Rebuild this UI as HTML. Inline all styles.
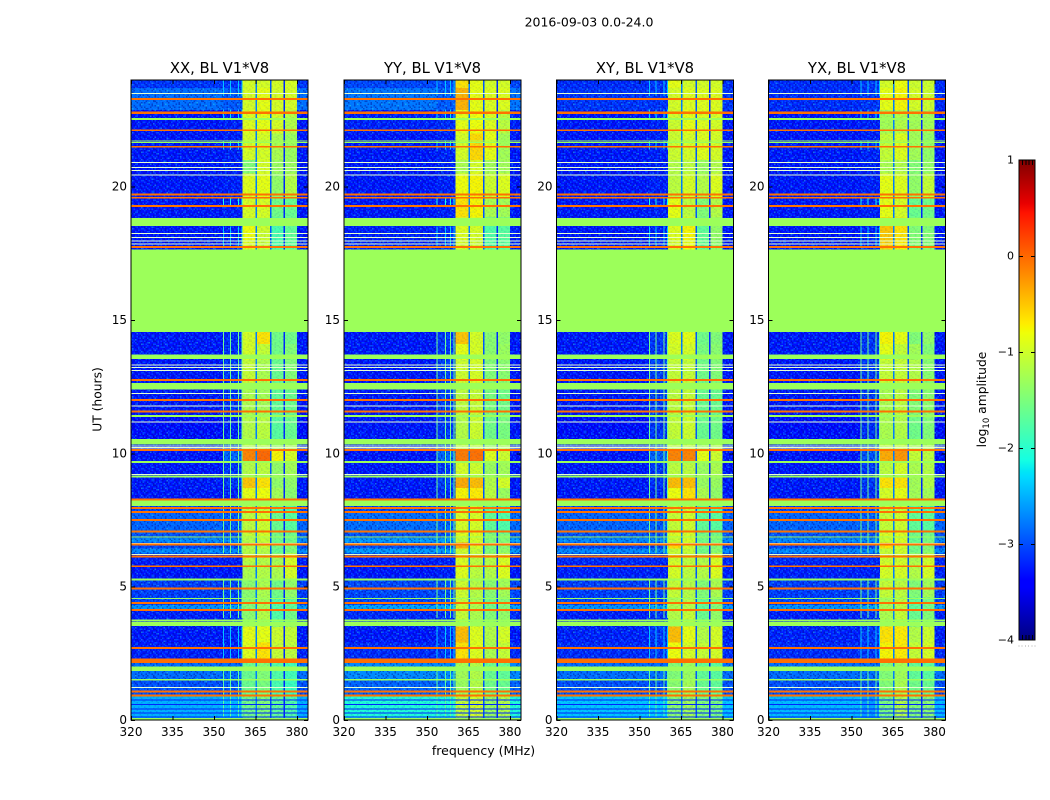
<!DOCTYPE html>
<html lang="en">
<head>
<meta charset="utf-8">
<title>2016-09-03 0.0-24.0</title>
<style>
html,body{margin:0;padding:0;background:#fff;}
svg{display:block;}
text{font-family:"DejaVu Sans","Liberation Sans",sans-serif;fill:#000;}
</style>
</head>
<body>
<svg id="fig" width="1050" height="800" viewBox="0 0 1050 800" xmlns="http://www.w3.org/2000/svg">
<defs id="defs"></defs>
<text x="589" y="26.5" font-size="12.5" text-anchor="middle">2016-09-03 0.0-24.0</text>
<text x="483.5" y="755" font-size="12.5" text-anchor="middle">frequency (MHz)</text>
<text transform="translate(101.5 399.5) rotate(-90)" font-size="12.3" text-anchor="middle">UT (hours)</text>
<g id="panels"></g>
<g id="colorbar"></g>
<text transform="translate(986 399.5) rotate(-90)" font-size="12.3" text-anchor="middle">log<tspan font-size="8.5" dy="3">10</tspan><tspan dy="-3"> amplitude</tspan></text>
</svg>
<script>
// ---- axis categories and ticks ----
const polarisations = ['XX', 'YY', 'XY', 'YX'];
const xTicks = [320, 335, 350, 365, 380];
const yTicks = [0, 5, 10, 15, 20];
const colorTicks = [-4, -3, -2, -1, 0, 1];
const colorMinorTicks = [0.2, 0.4, 0.6, 0.8];

// ---- frequency bands (MHz) and time blocks (UT hours) of the heatmap ----
const freqEdges = [320, 353.4, 360.4, 365, 365.6, 370.2, 370.8, 375.1, 375.7, 380, 384];
const hourEdges = [0, 0.9, 1.5, 2.2, 2.9, 3.5, 4.15, 4.31, 4.6, 5.3, 5.9, 6.25, 6.44, 6.65, 6.82, 7, 7.8, 8.26, 8.7, 9.1, 9.65, 10.12, 10.5, 11.4, 12.4, 13.5, 14.1, 14.55, 17.64, 18, 18.85, 19.6, 20.5, 21, 22, 22.87, 23.7, 24];

// ---- log10 amplitude per time block: [low, near, bandA, bandB, bandC, bandD] ----
const levelsXX = [
[-2.5,-2.45,-1.55,-1.45,-1.65,-1.75],[-3.0,-2.95,-1.6,-1.5,-1.8,-1.9],[-2.85,-2.85,-1.6,-1.45,-1.75,-1.85],
[-3.25,-3.25,-0.9,-0.65,-1.05,-1.1],[-3.3,-3.25,-0.85,-0.85,-1.0,-1.05],[-3.25,-3.15,-1.4,-1.15,-1.75,-1.55],
[-2.65,-2.55,-1.45,-1.25,-1.75,-1.65],[-3.05,-3.05,-1.45,-1.25,-1.75,-1.65],[-3.1,-3.05,-1.4,-1.2,-1.55,-1.35],
[-3.3,-3.3,-1.2,-1.15,-1.2,-0.95],[-3.25,-3.25,-1.1,-1.15,-1.25,-0.95],[-2.7,-2.7,-1.15,-1.15,-1.6,-1.45],
[-3.05,-3.05,-1.15,-1.05,-1.55,-1.45],[-2.7,-2.7,-1.15,-1.05,-1.55,-1.55],[-3.0,-3.0,-1.05,-0.95,-1.55,-1.55],
[-2.9,-2.95,-1.1,-1.0,-1.6,-1.7],[-3.05,-3.05,-1.15,-1.05,-1.65,-1.75],[-3.3,-3.25,-0.85,-0.8,-1.25,-1.4],
[-3.3,-3.15,-0.5,-0.65,-1.35,-1.35],[-3.3,-3.15,-1.15,-1.1,-1.35,-1.25],[-3.3,-2.9,-0.15,0.0,-0.75,-0.95],
[-3.3,-3.15,-1.15,-1.15,-1.35,-1.25],[-3.35,-3.25,-1.15,-1.1,-1.7,-1.6],[-3.3,-3.15,-1.2,-1.25,-1.65,-1.6],
[-3.3,-3.15,-1.05,-1.2,-1.6,-1.45],[-3.3,-3.2,-0.95,-1.05,-1.55,-1.45],[-3.3,-3.2,-0.95,-0.65,-1.55,-1.55],
[-1.3,-1.3,-1.3,-1.3,-1.3,-1.3],[-3.3,-3.25,-0.9,-1.05,-1.8,-1.7],[-3.3,-3.25,-0.8,-1.0,-1.8,-1.65],[-3.3,-3.25,-0.95,-0.95,-1.55,-1.6],
[-3.3,-3.25,-0.9,-0.85,-1.35,-1.15],[-3.3,-3.25,-1.45,-0.95,-1.3,-1.3],[-3.3,-3.25,-0.95,-0.95,-1.2,-1.3],
[-3.3,-3.25,-0.9,-0.85,-0.95,-1.15],[-2.85,-2.95,-0.95,-0.85,-0.95,-0.95],[-3.15,-3.15,-0.95,-0.95,-0.95,-0.95]
];
const levelsYY = [
[-2.05,-2.05,-1.05,-0.95,-1.3,-1.15],[-2.9,-2.85,-1.3,-1.15,-1.55,-1.6],[-2.7,-2.7,-1.25,-1.15,-1.6,-1.65],
[-3.2,-3.15,-0.65,-0.9,-1.2,-1.05],[-3.3,-3.2,-0.45,-0.9,-1.15,-0.95],[-3.2,-3.15,-1.05,-1.2,-1.45,-1.35],
[-2.55,-2.5,-1.05,-1.2,-1.55,-1.45],[-3.05,-3.0,-1.05,-1.2,-1.55,-1.45],[-3.05,-3.0,-1.0,-1.15,-1.4,-1.25],
[-3.3,-3.25,-0.9,-1.1,-1.15,-0.9],[-3.25,-3.25,-0.95,-1.1,-1.15,-0.95],[-2.6,-2.6,-1.0,-1.05,-1.45,-1.35],
[-3.0,-3.0,-0.35,-0.95,-1.45,-1.4],[-2.6,-2.6,-1.0,-0.95,-1.45,-1.45],[-3.0,-3.0,-0.9,-0.9,-1.45,-1.45],
[-2.85,-2.9,-0.95,-0.95,-1.65,-1.75],[-3.05,-3.05,-1.05,-1.05,-1.7,-1.75],[-3.3,-3.2,-0.75,-0.7,-1.1,-1.3],
[-3.3,-3.1,-0.35,-0.45,-1.15,-0.95],[-3.3,-3.15,-0.95,-1.0,-1.3,-1.25],[-3.3,-2.9,-0.1,-0.05,-0.9,-1.0],
[-3.3,-3.15,-1.1,-1.1,-1.35,-1.25],[-3.3,-3.15,-1.15,-1.0,-1.55,-1.5],[-3.3,-3.1,-1.1,-1.05,-1.5,-1.55],
[-3.3,-3.1,-1.0,-0.95,-1.45,-1.4],[-3.3,-3.15,-0.85,-0.95,-1.4,-1.3],[-3.3,-3.15,-0.5,-0.95,-1.4,-1.35],
[-1.3,-1.3,-1.3,-1.3,-1.3,-1.3],[-3.25,-3.2,-0.95,-1.0,-1.75,-1.7],[-3.25,-3.2,-0.9,-0.95,-1.75,-1.7],[-3.3,-3.25,-0.65,-0.75,-1.2,-1.25],
[-3.3,-3.25,-0.8,-0.75,-1.0,-0.9],[-3.3,-3.25,-1.2,-0.95,-1.25,-1.25],[-3.3,-3.25,-0.95,-0.6,-0.85,-1.25],
[-3.25,-3.2,-0.85,-0.8,-0.9,-1.1],[-2.8,-2.95,-0.4,-0.85,-0.9,-0.9],[-3.05,-3.05,-0.65,-0.85,-0.95,-0.95]
];
const levelsXY = [
[-2.4,-2.35,-1.4,-1.25,-1.45,-1.5],[-3.0,-3.0,-1.4,-1.25,-1.6,-1.65],[-2.85,-2.85,-1.45,-1.3,-1.65,-1.7],
[-3.2,-3.15,-0.8,-0.95,-1.05,-0.95],[-3.25,-3.15,-0.45,-0.85,-1.15,-0.95],[-3.25,-3.15,-1.15,-1.05,-1.6,-1.35],
[-2.65,-2.55,-1.2,-1.15,-1.65,-1.45],[-3.05,-3.05,-1.2,-1.15,-1.65,-1.45],[-3.1,-3.05,-1.05,-1.15,-1.45,-1.2],
[-3.25,-3.25,-0.95,-1.1,-1.15,-0.9],[-3.2,-3.2,-1.0,-1.1,-1.2,-0.95],[-2.7,-2.7,-1.05,-1.05,-1.55,-1.4],
[-3.05,-3.05,-0.6,-0.95,-1.55,-1.45],[-2.7,-2.7,-1.0,-0.95,-1.55,-1.5],[-3.0,-3.0,-0.9,-0.95,-1.55,-1.55],
[-2.9,-2.95,-1.05,-1.0,-1.65,-1.7],[-3.05,-3.05,-1.1,-1.05,-1.7,-1.75],[-3.3,-3.25,-0.8,-0.65,-1.2,-1.35],
[-3.3,-3.2,-0.45,-0.45,-1.3,-1.3],[-3.3,-3.15,-1.1,-1.1,-1.3,-1.2],[-3.3,-2.9,-0.15,-0.15,-0.85,-1.0],
[-3.3,-3.15,-1.1,-1.1,-1.3,-1.2],[-3.35,-3.15,-1.05,-1.0,-1.6,-1.55],[-3.3,-3.1,-1.1,-1.05,-1.6,-1.6],
[-3.3,-3.1,-1.05,-1.05,-1.55,-1.45],[-3.3,-3.15,-0.95,-0.95,-1.5,-1.4],[-3.3,-3.15,-0.9,-0.85,-1.55,-1.45],
[-1.3,-1.3,-1.3,-1.3,-1.3,-1.3],[-3.3,-3.25,-0.95,-0.8,-1.65,-1.4],[-3.3,-3.25,-0.9,-0.75,-1.65,-1.35],[-3.3,-3.25,-0.85,-1.1,-1.45,-1.15],
[-3.3,-3.25,-1.1,-0.95,-1.15,-0.9],[-3.3,-3.25,-1.15,-1.1,-1.3,-1.15],[-3.3,-3.25,-1.0,-0.95,-0.9,-0.95],
[-3.3,-3.25,-1.0,-0.85,-0.9,-0.95],[-3.15,-3.15,-0.95,-0.9,-0.9,-0.9],[-3.2,-3.15,-0.85,-0.95,-0.95,-0.95]
];
const levelsYX = [
[-2.45,-2.6,-1.5,-1.15,-1.45,-1.4],[-3.0,-3.0,-1.45,-1.2,-1.55,-1.6],[-2.85,-2.85,-1.45,-1.25,-1.65,-1.7],
[-3.2,-3.15,-0.75,-0.7,-1.05,-0.95],[-3.25,-3.15,-0.65,-0.7,-1.15,-1.0],[-3.25,-3.15,-1.2,-1.05,-1.6,-1.45],
[-2.65,-2.55,-1.25,-1.1,-1.65,-1.55],[-3.05,-3.05,-1.25,-1.1,-1.65,-1.55],[-3.1,-3.05,-1.05,-1.1,-1.45,-1.25],
[-3.25,-3.25,-0.95,-0.95,-1.15,-0.95],[-3.2,-3.2,-1.0,-1.0,-1.2,-1.0],[-2.7,-2.7,-1.05,-1.0,-1.55,-1.4],
[-3.05,-3.05,-0.65,-0.95,-1.55,-1.45],[-2.7,-2.7,-1.0,-0.95,-1.6,-1.5],[-3.0,-3.0,-0.9,-0.9,-1.55,-1.55],
[-2.9,-2.95,-1.05,-1.0,-1.65,-1.7],[-3.05,-3.05,-1.1,-1.05,-1.7,-1.75],[-3.3,-3.2,-0.95,-0.85,-1.25,-1.25],
[-3.3,-3.15,-0.65,-0.65,-1.25,-1.15],[-3.3,-3.15,-1.1,-0.95,-1.2,-1.15],[-3.3,-3.0,-0.35,-0.25,-1.05,-1.1],
[-3.3,-3.15,-1.1,-1.05,-1.25,-1.25],[-3.35,-3.2,-1.2,-1.15,-1.55,-1.45],[-3.3,-3.15,-1.2,-1.1,-1.45,-1.4],
[-3.3,-3.15,-1.05,-1.05,-1.15,-1.4],[-3.3,-3.15,-0.85,-1.05,-1.25,-1.45],[-3.3,-3.15,-0.75,-0.85,-1.45,-1.35],
[-1.3,-1.3,-1.3,-1.3,-1.3,-1.3],[-3.3,-3.25,-0.55,-0.7,-1.45,-1.45],[-3.3,-3.25,-0.5,-0.65,-1.45,-1.45],[-3.3,-3.25,-0.85,-0.95,-1.6,-1.55],
[-3.3,-3.25,-0.85,-0.9,-1.35,-1.05],[-3.3,-3.25,-1.2,-1.15,-1.45,-1.35],[-3.3,-3.25,-1.05,-0.9,-1.25,-1.35],
[-3.3,-3.25,-1.25,-1.15,-1.25,-1.25],[-3.2,-3.15,-0.85,-0.75,-0.95,-1.0],[-3.2,-3.15,-0.95,-0.8,-1.0,-1.0]
];
const levelsByPol = [levelsXX, levelsYY, levelsXY, levelsYX];

// ---- narrow gaps between sub-bands, log10 amplitude ----
const gapLevels = [-2.75, -2.95, -3.2];

// ---- flagged time rows (hours) drawn across all frequencies ----
const flagLevel = -1.3;
const greenStart = [0, 1.49, 1.84, 3.52, 3.7, 4.54, 5.24, 6.85, 8.02, 9.09, 9.64, 10.34, 11.36, 12.39, 13.54, 14.55, 18.52, 21.64, 21.7, 22.5, 22.54];
const greenEnd = [0.07, 1.54, 2.0, 3.67, 3.77, 4.58, 5.31, 6.89, 8.24, 9.16, 9.71, 10.54, 11.44, 12.64, 13.71, 17.64, 18.83, 21.68, 21.74, 22.53, 22.58];
const orangeLevel = -0.05;
const orangeStart = [0.89, 1.03, 2.14, 2.2, 2.67, 4.09, 4.35, 4.89, 5.73, 6.1, 6.55, 7.03, 7.46, 7.76, 7.91, 8.24, 10.09, 11.53, 11.97, 12.72, 17.7, 19.24, 19.55, 19.67, 21.46, 22.08, 22.73, 23.25];
const orangeEnd = [0.96, 1.1, 2.19, 2.3, 2.74, 4.16, 4.42, 4.96, 5.8, 6.17, 6.62, 7.1, 7.53, 7.83, 7.98, 8.31, 10.16, 11.6, 12.04, 12.79, 17.77, 19.31, 19.62, 19.74, 21.53, 22.15, 22.81, 23.32];
const paleHours = [1.22, 6.21, 6.61, 9.2, 10.16, 10.22, 10.28, 11.17, 11.77, 12.25, 13.1, 13.21, 13.32, 17.85, 17.97, 18.1, 18.25, 20.43, 20.6, 20.72, 20.9, 23.5];
const stripeHours = [0.12, 0.27, 0.42, 0.59, 0.75];
const stripeLevel = -3.2;

// ---- narrow vertical RFI channels per polarisation (MHz) and when they appear ----
const rfiFreqs = [[353.3, 355.85, 358.7, 360], [353.4, 356.6, 358.3, 359.6], [353.4, 355.85, 358.7, 360], [353.3, 355.85, 358.7, 360]];
const rfiStart = [0.1, 2.25, 3.82, 6.25, 17.7, 19.3, 21.4, 22.5, 23.4];
const rfiEnd = [1.87, 3.5, 5.25, 14.55, 18.5, 19.6, 21.7, 22.9, 24];
const rfiLevel = [-1.7, -2.4, -1.6, -1.6, -2.4, -2.1, -2.3, -2.3, -2.4];

// ---- speckle texture read by eye: 0 none, 1 darker, 2 lighter, 3 brightest ----
const speckleTile = [
'20010221002010030220100120021002','01200100212200112000210200100212','00122012000103002102001220301001',
'21000211020200210001120002100220','10230000120012001220000120210010','02010122000210320000210100020132',
'00200101230010021001002221000100','12001200010222000120100100102012',
'21100020210001000212002030012000','00022103000120123000100120200201','10200010120200000101222000110030',
'02120201001003210200001002001202','20001002200121000011202100020100','01003120010002012200030001221000',
'00210002102100200010120212000012','12020010000230120201000100102201',
'00100212010000201002212001200100','20021000120211000120000210003012','01200130002000221000102000120200',
'10002102100120001203002101002001','02210000210002010020120000212010','20100210002310200100010212000102',
'00012001200001022000210100200210','12000320010212000120002001021000',
'01020010220000100212000130100022','20100201002120120000210200012000','00221000100002001201020001200101',
'10002013000210020010002210020020','02100120021000132000120001002102','00200001200102001022000210200010',
'21020100012000210100201000130200','00100221000201002002100120000121'
];
const speckleLook = ['none', '#000c8c', '#0090ff', '#30e8e0'];

// ---- layout and scales ----
const svgNS = 'http://www.w3.org/2000/svg';
const plotLefts = [131, 344, 556.5, 768.5];
const plotWidth = 177, plotTop = 80, plotBottom = 720;
const freqMin = 320, freqMax = 384, hourMax = 24;
const cbLeft = 1019, cbWidth = 16, cbTop = 160, cbBottom = 640;

function sx(left, f) { return left + (f - freqMin) / (freqMax - freqMin) * plotWidth; }
function sy(h) { return plotBottom - h / hourMax * (plotBottom - plotTop); }
function cy(v) { return cbBottom - (v + 4) / 5 * (cbBottom - cbTop); }

const jetR = [[0,0],[0.35,0],[0.66,1],[0.89,1],[1,0.5]];
const jetG = [[0,0],[0.125,0],[0.375,1],[0.64,1],[0.91,0],[1,0]];
const jetB = [[0,0.5],[0.11,1],[0.34,1],[0.65,0],[1,0]];
function seg(tbl, t) {
  for (let i = 1; i < tbl.length; i++) {
    if (t <= tbl[i][0]) {
      const a = tbl[i - 1], b = tbl[i];
      return a[1] + (b[1] - a[1]) * (t - a[0]) / (b[0] - a[0]);
    }
  }
  return tbl[tbl.length - 1][1];
}
function jet(v) {
  const t = Math.max(0, Math.min(1, (v + 4) / 5));
  return 'rgb(' + Math.round(seg(jetR, t) * 255) + ',' + Math.round(seg(jetG, t) * 255) + ',' + Math.round(seg(jetB, t) * 255) + ')';
}
function rect(parent, x, y, w, h, fill) {
  const r = document.createElementNS(svgNS, 'rect');
  r.setAttribute('x', x.toFixed(2));
  r.setAttribute('y', y.toFixed(2));
  r.setAttribute('width', w.toFixed(2));
  r.setAttribute('height', h.toFixed(2));
  r.setAttribute('fill', fill);
  r.setAttribute('shape-rendering', 'crispEdges');
  parent.appendChild(r);
  return r;
}
function label(parent, x, y, str, anchor, size) {
  const t = document.createElementNS(svgNS, 'text');
  t.setAttribute('x', x);
  t.setAttribute('y', y);
  t.setAttribute('text-anchor', anchor);
  t.setAttribute('font-size', size);
  t.textContent = str;
  parent.appendChild(t);
  return t;
}
function group(parent) {
  const g = document.createElementNS(svgNS, 'g');
  parent.appendChild(g);
  return g;
}

// speckle pattern, shared by all panels (whole-pixel tile so no seams appear)
const cellW = 1.5, cellH = 1.5;
const pattern = document.createElementNS(svgNS, 'pattern');
pattern.setAttribute('id', 'speckle');
pattern.setAttribute('patternUnits', 'userSpaceOnUse');
pattern.setAttribute('width', cellW * speckleTile[0].length);
pattern.setAttribute('height', cellH * speckleTile.length);
speckleTile.forEach(function (rowText, r) {
  rowText.split('').forEach(function (ch, c) {
    const k = Number(ch);
    if (k === 0) return;
    const s = document.createElementNS(svgNS, 'rect');
    s.setAttribute('x', c * cellW);
    s.setAttribute('y', r * cellH);
    s.setAttribute('width', cellW);
    s.setAttribute('height', cellH);
    s.setAttribute('fill', speckleLook[k]);
    s.setAttribute('fill-opacity', 0.5);
    pattern.appendChild(s);
  });
});
document.getElementById('defs').appendChild(pattern);

// panels
const panelsRoot = document.getElementById('panels');
polarisations.forEach(function (pol, p) {
  const left = plotLefts[p];
  const levels = levelsByPol[p];
  const panel = group(panelsRoot);
  
  

  levels.forEach(function (row, b) {
    const columnValues = [row[0], row[1], row[2], gapLevels[0], row[3], gapLevels[1], row[4], gapLevels[2], row[5], row[0]];
    columnValues.forEach(function (value, c) {
      const x0 = sx(left, freqEdges[c]), x1 = sx(left, freqEdges[c + 1]);
      const y0 = sy(hourEdges[b + 1]), y1 = sy(hourEdges[b]);
      const cell = rect(panel, x0, y0, x1 - x0, y1 - y0, jet(value));
      
      
    });
  });

  const noiseTop = sy(hourEdges[1]);
  const lowSpeckle = rect(panel, left, plotTop, sx(left, freqEdges[2]) - left, noiseTop - plotTop, 'url(#speckle)');
  lowSpeckle.setAttribute('opacity', 0.85);
  
  
  const calmSpeckle = rect(panel, left, noiseTop, plotWidth, plotBottom - noiseTop, 'url(#speckle)');
  calmSpeckle.setAttribute('opacity', 0.3);
  
  
  const midSpeckle = rect(panel, sx(left, freqEdges[2]), plotTop, sx(left, freqEdges[9]) - sx(left, freqEdges[2]), noiseTop - plotTop, 'url(#speckle)');
  midSpeckle.setAttribute('opacity', 0.18);
  
  
  const highSpeckle = rect(panel, sx(left, freqEdges[9]), plotTop, left + plotWidth - sx(left, freqEdges[9]), noiseTop - plotTop, 'url(#speckle)');
  highSpeckle.setAttribute('opacity', 0.85);
  
  

  rfiFreqs[p].forEach(function (freq) {
    rfiStart.forEach(function (start, i) {
      const line = rect(panel, sx(left, freq), sy(rfiEnd[i]), 1, sy(start) - sy(rfiEnd[i]), jet(rfiLevel[i]));
      
      
    });
  });

  stripeHours.forEach(function (h) {
    const stripe = rect(panel, left, sy(h) - 0.5, plotWidth, 1, jet(stripeLevel));
    
    
  });
  paleHours.forEach(function (h) {
    const pale = rect(panel, left, sy(h) - 0.5, plotWidth, 1, '#e6ffcc');
    
    
  });
  greenStart.forEach(function (s, i) {
    const green = rect(panel, left, sy(greenEnd[i]), plotWidth, sy(s) - sy(greenEnd[i]), jet(flagLevel));
    
    
  });
  orangeStart.forEach(function (s, i) {
    const orange = rect(panel, left, sy(orangeEnd[i]), plotWidth, sy(s) - sy(orangeEnd[i]), jet(orangeLevel));
    
    
  });

  const frame = rect(panel, left, plotTop, plotWidth, plotBottom - plotTop, 'none');
  frame.setAttribute('stroke', '#000');
  frame.setAttribute('stroke-width', 1);
  
  

  xTicks.forEach(function (f) {
    const x = sx(left, f);
    const bottomTick = rect(panel, x, plotBottom - 4, 1, 4, '#000');
    
    
    const topTick = rect(panel, x, plotTop, 1, 4, '#000');
    
    
    const lab = label(panel, x, 736, String(f), 'middle', 12);
    
    
  });
  yTicks.forEach(function (h) {
    const y = sy(h);
    const leftTick = rect(panel, left, y, 4, 1, '#000');
    
    
    const rightTick = rect(panel, left + plotWidth - 4, y, 4, 1, '#000');
    
    
    const lab = label(panel, left - 4, y + 4, String(h), 'end', 12);
    
    
  });

  const title = label(panel, left + plotWidth / 2, 73, pol + ', BL V1*V8', 'middle', 14.8);
  
  
});

// colorbar
const cbRoot = document.getElementById('colorbar');
const gradient = document.createElementNS(svgNS, 'linearGradient');
gradient.setAttribute('id', 'jet-gradient');
gradient.setAttribute('x1', 0);
gradient.setAttribute('y1', 1);
gradient.setAttribute('x2', 0);
gradient.setAttribute('y2', 0);
const gradientStops = [0, 0.11, 0.125, 0.34, 0.35, 0.375, 0.64, 0.65, 0.66, 0.89, 0.91, 1];
gradientStops.forEach(function (t) {
  const stop = document.createElementNS(svgNS, 'stop');
  stop.setAttribute('offset', t);
  stop.setAttribute('stop-color', jet(t * 5 - 4));
  gradient.appendChild(stop);
});
document.getElementById('defs').appendChild(gradient);
const cbFill = rect(cbRoot, cbLeft, cbTop, cbWidth, cbBottom - cbTop, 'url(#jet-gradient)');
cbFill.setAttribute('stroke', '#000');


colorTicks.forEach(function (v) {
  const y = cy(v);
  if (v > -4 && v < 1) {
    const tickL = rect(cbRoot, cbLeft, y, 4, 1, '#000');
    
    
    const tickR = rect(cbRoot, cbLeft + cbWidth - 4, y, 4, 1, '#000');
    
    
  }
  const text = String(v).replace('-', '\u2212');
  const lab = label(cbRoot, cbLeft - 5, y + 3.5, text, 'end', 11);
  
  
});
colorMinorTicks.forEach(function (t) {
  const x = cbLeft + t * cbWidth;
  const topMinor = rect(cbRoot, x, cbTop, 1, 5, '#000');
  
  
  const bottomMinor = rect(cbRoot, x, cbBottom - 5, 1, 5, '#000');
  
  
});
[0, 0.2, 0.4, 0.6, 0.8, 1].forEach(function (t) {
  const dot = rect(cbRoot, cbLeft + t * cbWidth - 0.5, 645.5, 1, 1, '#aaa');
  
  
});
</script>
</body>
</html>
